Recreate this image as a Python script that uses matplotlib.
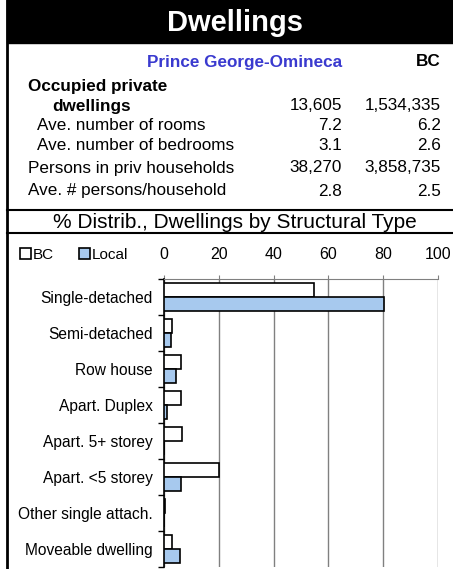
import matplotlib
matplotlib.use("Agg")
import matplotlib.pyplot as plt
import numpy as np
from matplotlib.patches import Rectangle
from matplotlib.lines import Line2D

plt.rcParams["font.family"] = ["Liberation Sans", "DejaVu Sans"]

TITLE = "Dwellings"
REGION = "Prince George-Omineca"
PROVINCE = "BC"

# summary table
ROW_LABELS = ["Occupied private", "dwellings", "Ave. number of rooms",
              "Ave. number of bedrooms", "Persons in priv households",
              "Ave. # persons/household"]
LOCAL_VALS = ["", "13,605", "7.2", "3.1", "38,270", "2.8"]
BC_VALS = ["", "1,534,335", "6.2", "2.6", "3,858,735", "2.5"]

# bar chart
CHART_TITLE = "% Distrib., Dwellings by Structural Type"
CATEGORIES = ["Single-detached", "Semi-detached", "Row house", "Apart. Duplex",
              "Apart. 5+ storey", "Apart. <5 storey", "Other single attach.",
              "Moveable dwelling"]
BC_PCT = [54.7, 2.9, 6.3, 6.3, 6.7, 20.0, 0.3, 2.8]
LOCAL_PCT = [80.3, 2.4, 4.3, 1.0, 0.0, 6.1, 0.1, 6.0]
XTICKS = [0, 20, 40, 60, 80, 100]

W, H = 453, 569
BLUE = "#3a3acf"
BAR_BLUE = "#a7c9ee"
FS = 12.3

fig = plt.figure(figsize=(W / 100, H / 100), dpi=100)

def fx(px):
    return px / W

def fy(py):
    return 1 - py / H

# frame: title bar, left border, separators
fig.patches.append(Rectangle((fx(7), fy(43)), fx(W - 7), 43 / H,
                             transform=fig.transFigure, color="black", zorder=0))
fig.add_artist(Line2D([fx(7), fx(7)], [0, 1], color="black", lw=2))
for yy in (210, 233):
    fig.add_artist(Line2D([fx(7), 1], [fy(yy), fy(yy)], color="black", lw=1.5))

fig.text(fx(235), fy(23), TITLE, color="white", fontsize=21, fontweight="bold",
         ha="center", va="center")
fig.text(fx(342), fy(62), REGION, color=BLUE, fontsize=FS, fontweight="bold",
         ha="right", va="center")
fig.text(fx(441), fy(62), PROVINCE, color="black", fontsize=FS, fontweight="bold",
         ha="right", va="center")

row_y = [86, 106, 125, 145, 168, 191]
row_x = [28, 52, 37, 37, 28, 28]
for i, lab in enumerate(ROW_LABELS):
    bold = i < 2
    fig.text(fx(row_x[i]), fy(row_y[i]), lab, fontsize=FS,
             fontweight="bold" if bold else "normal", ha="left", va="center")
    if LOCAL_VALS[i]:
        fig.text(fx(342), fy(row_y[i]), LOCAL_VALS[i], fontsize=FS,
                 ha="right", va="center")
        fig.text(fx(441), fy(row_y[i]), BC_VALS[i], fontsize=FS,
                 ha="right", va="center")

fig.text(fx(235), fy(222), CHART_TITLE, fontsize=15, ha="center", va="center")

# bar chart
ax = fig.add_axes([fx(164), fy(567), fx(438 - 164), (567 - 279) / H])
y = np.arange(len(CATEGORIES))
h = 0.4
ax.barh(y - h / 2, BC_PCT, height=h, color="white", edgecolor="black",
        linewidth=1.2, label="BC", zorder=3)
ax.barh(y + h / 2, LOCAL_PCT, height=h, color=BAR_BLUE, edgecolor="black",
        linewidth=1.2, label="Local", zorder=3)

ax.set_xlim(0, 100)
ax.set_ylim(len(CATEGORIES) - 0.5, -0.5)
ax.set_xticks(XTICKS)
ax.xaxis.tick_top()
ax.tick_params(axis="x", length=3, pad=9, labelsize=11.5, color="#808080")
ax.set_yticks(y)
ax.set_yticklabels(CATEGORIES, fontsize=11.2)
ax.tick_params(axis="y", which="major", length=0, pad=8)
ax.set_yticks(np.arange(len(CATEGORIES) + 1) - 0.5, minor=True)
ax.tick_params(axis="y", which="minor", length=4, width=1, color="black")
ax.grid(axis="x", color="#808080", linewidth=1, zorder=0)
for s in ("right", "bottom"):
    ax.spines[s].set_visible(False)
ax.spines["top"].set_color("#808080")
ax.spines["left"].set_linewidth(1.2)

fig.legend(loc="center left", bbox_to_anchor=(fx(14), fy(255)), ncol=2,
           frameon=False, fontsize=11, handlelength=0.7, handleheight=0.7,
           handletextpad=0.1, columnspacing=1.7, borderaxespad=0)

fig.savefig("out.png", dpi=100)
